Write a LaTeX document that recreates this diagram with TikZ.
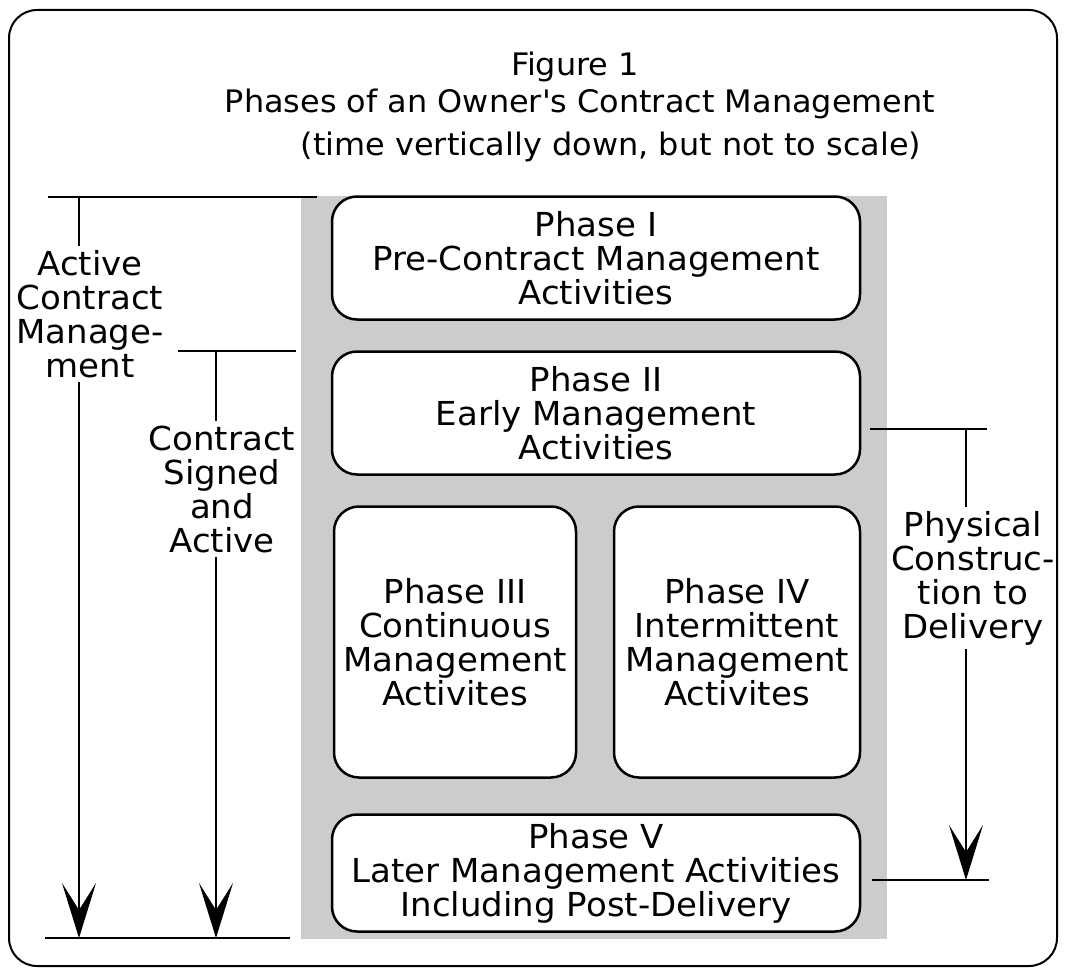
\documentclass[tikz,border=0pt]{standalone}
\usepackage{fontspec}
\setmainfont{DejaVu Sans}[FakeStretch=1.03]
\usetikzlibrary{arrows.meta}

\tikzset{
  phase/.style={draw, line width=2.5pt, fill=white, rounded corners=25pt,
    align=center, inner sep=0pt, font=\fontsize{33}{34}\selectfont},
  bar/.style={line width=2.5pt},
  timearrow/.style={line width=2.5pt, -{Stealth[length=55pt, width=34pt, inset=27pt]}},
  spanlabel/.style={align=center, inner sep=4pt, font=\fontsize{33}{34}\selectfont},
  heading/.style={anchor=base, inner sep=0pt, font=\fontsize{31}{34}\selectfont},
}

\begin{document}
\begin{tikzpicture}[x=1pt, y=-1pt]
    \useasboundingbox (0,0) rectangle (1066,974);

    % Outer frame
    \draw[line width=2pt, rounded corners=28pt] (9,10) rectangle (1057,966);

    % Title
    \node[heading] (fig) at (575,76) {Figure 1};
    \node[heading] (title) at (580,113) {Phases of an Owner\textquotesingle s Contract Management};
    \node[heading] (note) at (611,155) {(time vertically down, but not to scale)};

    % Gray background of the phases
    \fill[black!20] (301,196) rectangle (887,939);

    % Phase boxes
    \node[phase, minimum width=528pt, minimum height=123pt] (p1) at (596,258)
        {Phase I\\Pre-Contract Management\\Activities};
    \node[phase, minimum width=528pt, minimum height=123pt] (p2) at (596,413)
        {Phase II\\Early Management\\Activities};
    \node[phase, minimum width=242pt, minimum height=271pt] (p3) at (455,642)
        {Phase III\\Continuous\\Management\\Activites};
    \node[phase, minimum width=246pt, minimum height=271pt] (p4) at (737,642)
        {Phase IV\\Intermittent\\Management\\Activites};
    \node[phase, minimum width=528pt, minimum height=117pt] (p5) at (596,873)
        {Phase V\\Later Management Activities\\Including Post-Delivery};

    % Active contract management span
    \coordinate (actTop) at (79,197);
    \coordinate (actBot) at (79,938);
    \draw[bar] (48,197) -- (317,197);
    \node[spanlabel] (actLabel) at (90,314) {Active\\Contract\\Manage-\\ment};
    \draw[bar] (actTop) -- (actTop |- actLabel.north);
    \draw[timearrow] (actTop |- actLabel.south) -- (actBot);

    % Contract signed span
    \coordinate (sigTop) at (216,351);
    \coordinate (sigBot) at (216,938);
    \draw[bar] (178,351) -- (296,351);
    \node[spanlabel] (sigLabel) at (222,489) {Contract\\Signed\\and\\Active};
    \draw[bar] (sigTop) -- (sigTop |- sigLabel.north);
    \draw[timearrow] (sigTop |- sigLabel.south) -- (sigBot);
    \draw[bar] (45,938) -- (290,938);

    % Physical construction span
    \coordinate (conTop) at (966,429);
    \coordinate (conBot) at (966,880);
    \draw[bar] (870,429) -- (987,429);
    \node[spanlabel] (conLabel) at (973,578) {Physical\\Construc-\\tion to\\Delivery};
    \draw[bar] (conTop) -- (conTop |- conLabel.north);
    \draw[timearrow] (conTop |- conLabel.south) -- (conBot);
    \draw[bar] (872,880) -- (989,880);
\end{tikzpicture}
\end{document}
